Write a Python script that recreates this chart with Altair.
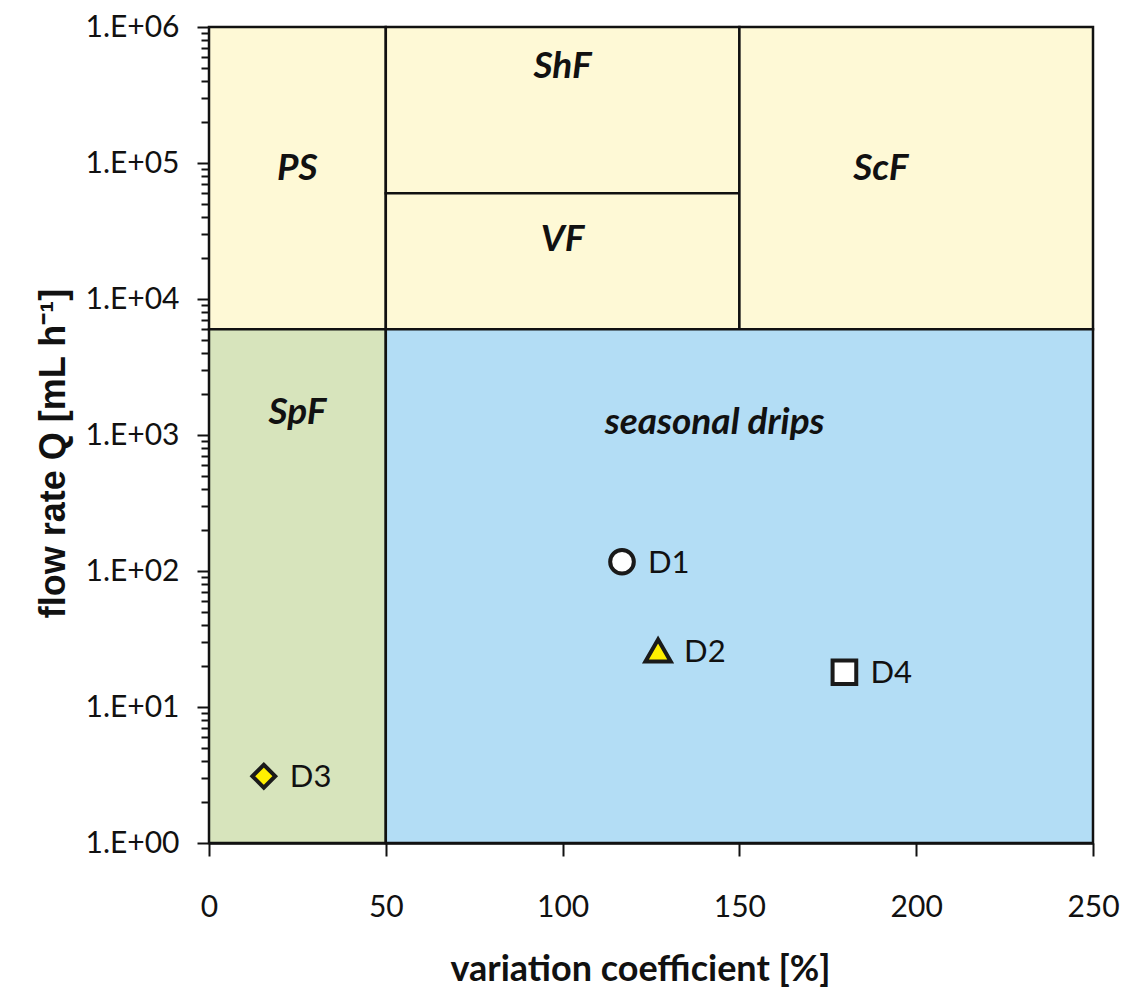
import altair as alt
import pandas as pd

# ---- data ----
region_names = ["PS", "ShF", "VF", "ScF", "SpF", "seasonal drips"]
region_x0 = [0, 50, 50, 150, 0, 50]
region_x1 = [50, 150, 150, 250, 50, 250]
region_y0 = [6000, 60000, 6000, 6000, 1, 1]
region_y1 = [1e6, 1e6, 60000, 1e6, 6000, 6000]
region_fill = ["#FEF9D6", "#FEF9D6", "#FEF9D6", "#FEF9D6", "#D7E4BC", "#B3DDF5"]
label_x = [25, 100, 100, 190, 25, 143]
label_y = [9.0e4, 5.1e5, 2.7e4, 9.0e4, 1460, 1215]

point_names = ["D1", "D2", "D3", "D4"]
point_cv = [116.8, 127.0, 15.5, 179.7]
point_q = [117, 26, 3.1, 18]
point_shape = ["circle", "triangle-up", "diamond", "square"]
point_fill = ["#FFFFFF", "#FFEF00", "#FFEF00", "#FFFFFF"]
point_size = [560, 640, 520, 560]

x_ticks = [0, 50, 100, 150, 200, 250]
y_ticks = [m * 10 ** k for k in range(0, 6) for m in range(1, 10)] + [1e6]

regions = pd.DataFrame({
    "name": region_names, "x0": region_x0, "x1": region_x1,
    "y0": region_y0, "y1": region_y1, "fill": region_fill,
    "lx": label_x, "ly": label_y,
})
points = pd.DataFrame({
    "name": point_names, "cv": point_cv, "q": point_q,
    "shape": point_shape, "fill": point_fill, "size": point_size,
})

is_pow = "abs(log(datum.value)/LN10 - round(log(datum.value)/LN10)) < 1e-6"

x_axis = alt.Axis(
    title="variation coefficient [%]", values=x_ticks, tickSize=13,
    labelPadding=36, titlePadding=30, titleFont="Lato", titleFontSize=36,
    titleFontWeight="bold", labelFontSize=30, labelFlush=False, titleX=431,
)
y_axis = alt.Axis(
    title="flow rate Q [mL h⁻¹]", values=y_ticks,
    tickSize={"condition": {"test": is_pow, "value": 12}, "value": 8},
    labelExpr=f"({is_pow}) ? '1.E+0' + round(log(datum.value)/LN10) : ''",
    labelOverlap=False, labelPadding=18, titlePadding=12, labelFlush=False,
    titleFont="Liberation Sans", titleFontSize=36, titleFontWeight="bold",
    labelFontSize=30, titleY=426,
)

x_scale = alt.Scale(domain=[0, 250], nice=False, zero=False)
y_scale = alt.Scale(type="log", domain=[1, 1e6], nice=False)

rects = alt.Chart(regions).mark_rect(stroke="#111111", strokeWidth=2.5).encode(
    x=alt.X("x0:Q", scale=x_scale, axis=x_axis),
    x2="x1",
    y=alt.Y("y0:Q", scale=y_scale, axis=y_axis),
    y2="y1",
    fill=alt.Fill("fill:N", scale=None),
)

rlabels = alt.Chart(regions).mark_text(
    font="Lato", fontSize=37, fontWeight="bold", fontStyle="italic", color="#111111"
).encode(
    x=alt.X("lx:Q", scale=x_scale, axis=x_axis),
    y=alt.Y("ly:Q", scale=y_scale, axis=y_axis),
    text="name:N",
)

pts = alt.Chart(points).mark_point(filled=False, strokeWidth=4, stroke="#1a1a1a", opacity=1).encode(
    x=alt.X("cv:Q", scale=x_scale, axis=x_axis),
    y=alt.Y("q:Q", scale=y_scale, axis=y_axis),
    shape=alt.Shape("shape:N", scale=None),
    fill=alt.Fill("fill:N", scale=None),
    size=alt.Size("size:Q", scale=None),
)

plabels = alt.Chart(points).mark_text(
    font="Lato", fontSize=31, align="left", dx=26, dy=2, color="#111111"
).encode(
    x=alt.X("cv:Q", scale=x_scale, axis=x_axis),
    y=alt.Y("q:Q", scale=y_scale, axis=y_axis),
    text="name:N",
)

chart = alt.layer(rects, rlabels, pts, plabels).properties(
    width=884, height=816,
    autosize=alt.AutoSizeParams(type="none"),
    padding={"left": 201, "top": 19, "right": 27, "bottom": 145},
).configure_view(stroke=None).configure_axis(
    grid=False, domainColor="#111111", domainWidth=2.5, tickColor="#111111",
    tickWidth=2, labelFont="Lato", labelColor="#111111", titleColor="#111111",
)

chart.save("out.html", embed_options={"renderer": "svg", "actions": False})
